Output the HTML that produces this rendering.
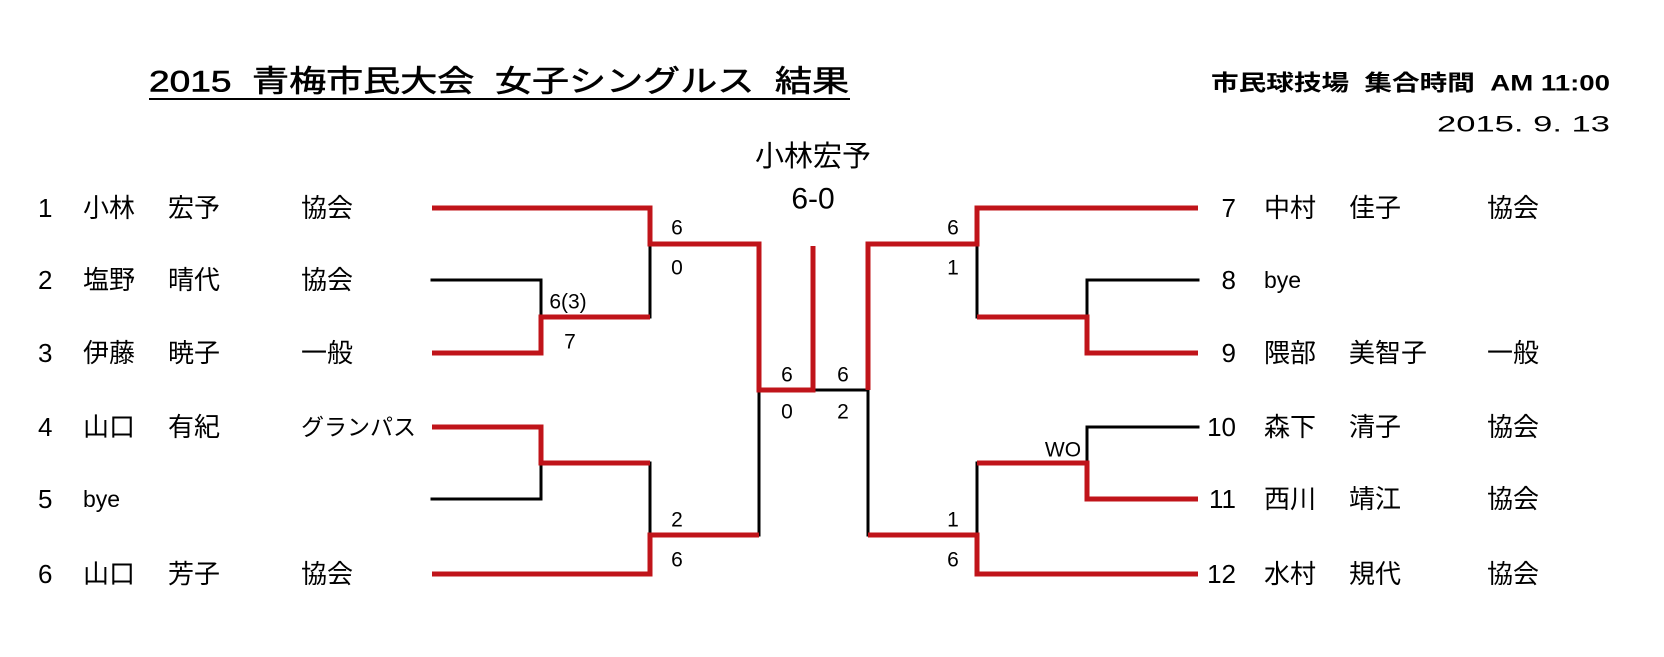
<!DOCTYPE html>
<html><head><meta charset="utf-8"><style>
html,body{margin:0;padding:0;background:#fff;}
svg{display:block;}
text{font-family:"Liberation Sans","Noto Sans CJK JP",sans-serif;fill:#000;dominant-baseline:central;white-space:pre;}
</style></head><body>
<svg width="1664" height="657" viewBox="0 0 1664 657" xmlns="http://www.w3.org/2000/svg" xml:space="preserve">
<g stroke-linecap="square" fill="none">
<g stroke="#000" stroke-width="3">
<line x1="432" y1="280" x2="541" y2="280"/><line x1="541" y1="280" x2="541" y2="317"/>
<line x1="650" y1="244" x2="650" y2="317"/>
<line x1="432" y1="499" x2="541" y2="499"/><line x1="541" y1="463" x2="541" y2="499"/>
<line x1="650" y1="463" x2="650" y2="535"/>
<line x1="759" y1="390" x2="759" y2="535"/>
<line x1="813" y1="390" x2="868" y2="390"/>
<line x1="868" y1="390" x2="868" y2="535"/>
<line x1="977" y1="244" x2="977" y2="317"/>
<line x1="1087" y1="280" x2="1198" y2="280"/><line x1="1087" y1="280" x2="1087" y2="317"/>
<line x1="1087" y1="427" x2="1198" y2="427"/><line x1="1087" y1="427" x2="1087" y2="463"/>
<line x1="977" y1="463" x2="977" y2="535"/>
</g>
<g stroke="#c0141a" stroke-width="5" stroke-linecap="butt">
<polyline points="432,208 650,208 650,244 759,244 759,390 813,390 813,246"/>
<polyline points="432,353 541,353 541,317 650,317"/>
<polyline points="432,427 541,427 541,463 650,463"/>
<polyline points="432,574 650,574 650,535 759,535"/>
<polyline points="868,390 868,244 977,244 977,208 1198,208"/>
<polyline points="977,317 1087,317 1087,353 1198,353"/>
<polyline points="977,463 1087,463 1087,499 1198,499"/>
<polyline points="868,535 977,535 977,574 1198,574"/>
</g>
</g>
<text x="149" y="82" font-size="30" stroke="#000" stroke-width="0.6" textLength="700" lengthAdjust="spacingAndGlyphs">2015  青梅市民大会  女子シングルス  結果</text>
<line x1="149" y1="99" x2="850" y2="99" stroke="#000" stroke-width="2"/>
<text x="1211" y="83" font-size="22" font-weight="bold" textLength="399" lengthAdjust="spacingAndGlyphs">市民球技場  集合時間  AM 11:00</text>
<text x="1437" y="124" font-size="22" textLength="173" lengthAdjust="spacingAndGlyphs">2015. 9. 13</text>
<text x="813" y="157" font-size="29" text-anchor="middle">小林宏予</text>
<text x="813" y="199" font-size="30" text-anchor="middle">6-0</text>
<g font-size="26">
<text x="38" y="208">1</text><text x="83" y="208">小林</text><text x="168" y="208">宏予</text><text x="301" y="208">協会</text>
<text x="38" y="280">2</text><text x="83" y="280">塩野</text><text x="168" y="280">晴代</text><text x="301" y="280">協会</text>
<text x="38" y="353">3</text><text x="83" y="353">伊藤</text><text x="168" y="353">暁子</text><text x="301" y="353">一般</text>
<text x="38" y="427">4</text><text x="83" y="427">山口</text><text x="168" y="427">有紀</text><text x="301" y="427" font-size="23" textLength="115" lengthAdjust="spacingAndGlyphs">グランパス</text>
<text x="38" y="499">5</text><text x="83" y="499" font-size="23">bye</text>
<text x="38" y="574">6</text><text x="83" y="574">山口</text><text x="168" y="574">芳子</text><text x="301" y="574">協会</text>
<text x="1236" y="208" text-anchor="end">7</text><text x="1264" y="208">中村</text><text x="1349" y="208">佳子</text><text x="1487" y="208">協会</text>
<text x="1236" y="280" text-anchor="end">8</text><text x="1264" y="280" font-size="23">bye</text>
<text x="1236" y="353" text-anchor="end">9</text><text x="1264" y="353">隈部</text><text x="1349" y="353">美智子</text><text x="1487" y="353">一般</text>
<text x="1236" y="427" text-anchor="end">10</text><text x="1264" y="427">森下</text><text x="1349" y="427">清子</text><text x="1487" y="427">協会</text>
<text x="1236" y="499" text-anchor="end">11</text><text x="1264" y="499">西川</text><text x="1349" y="499">靖江</text><text x="1487" y="499">協会</text>
<text x="1236" y="574" text-anchor="end">12</text><text x="1264" y="574">水村</text><text x="1349" y="574">規代</text><text x="1487" y="574">協会</text>
</g>
<g font-size="21" text-anchor="middle">
<text x="677" y="228">6</text><text x="677" y="268">0</text>
<text x="568" y="302">6(3)</text><text x="570" y="342">7</text>
<text x="787" y="375">6</text><text x="787" y="412">0</text>
<text x="843" y="375">6</text><text x="843" y="412">2</text>
<text x="677" y="520">2</text><text x="677" y="560">6</text>
<text x="953" y="228">6</text><text x="953" y="268">1</text>
<text x="1063" y="450">WO</text>
<text x="953" y="520">1</text><text x="953" y="560">6</text>
</g>
</svg>
</body></html>
